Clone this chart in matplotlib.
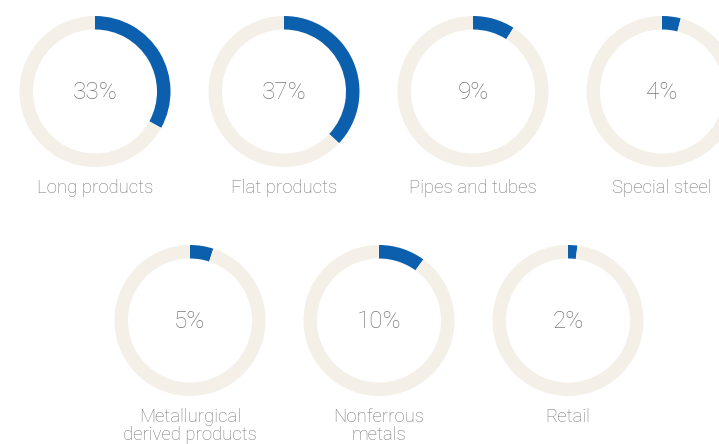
import matplotlib
matplotlib.use("Agg")
import matplotlib.pyplot as plt

categories = ["Long products", "Flat products", "Pipes and tubes", "Special steel",
              "Metallurgical\nderived products", "Nonferrous\nmetals", "Retail"]
shares = [33, 37, 9, 4, 5, 10, 2]

BLUE = "#0B5FAD"
TRACK = "#F4F0E8"
GREY = "#767676"

W, H = 719, 444
fig = plt.figure(figsize=(W / 100, H / 100), dpi=100)
ax = fig.add_axes([0, 0, 1, 1])

row1_x = [95, 284, 473, 662]
row2_x = [190, 379, 568]
centers = [(x, H - 91.5) for x in row1_x] + [(x, H - 320.5) for x in row2_x]
R = 75.5
RING = 13.5

for (cx, cy), cat, v in zip(centers, categories, shares):
    ax.pie([v, 100 - v], colors=[BLUE, TRACK], center=(cx, cy), radius=R,
           startangle=90, counterclock=False,
           wedgeprops=dict(width=RING, linewidth=0), frame=True)
    ax.text(cx, cy - 0.5, f"{v}%", ha="center", va="center", fontsize=17.5,
            color=GREY, family="Roboto", fontweight="light")
    nlines = cat.count("\n") + 1
    ly = cy - R - 20.5 - (nlines - 1) * 9.5
    ax.text(cx, ly, cat, ha="center", va="center", fontsize=13.4,
            color=GREY, family="Roboto", fontweight="light", linespacing=0.98)

ax.set_xlim(0, W)
ax.set_ylim(0, H)
ax.set_aspect("equal")
ax.axis("off")
fig.savefig("out.png", dpi=100, facecolor="white")
